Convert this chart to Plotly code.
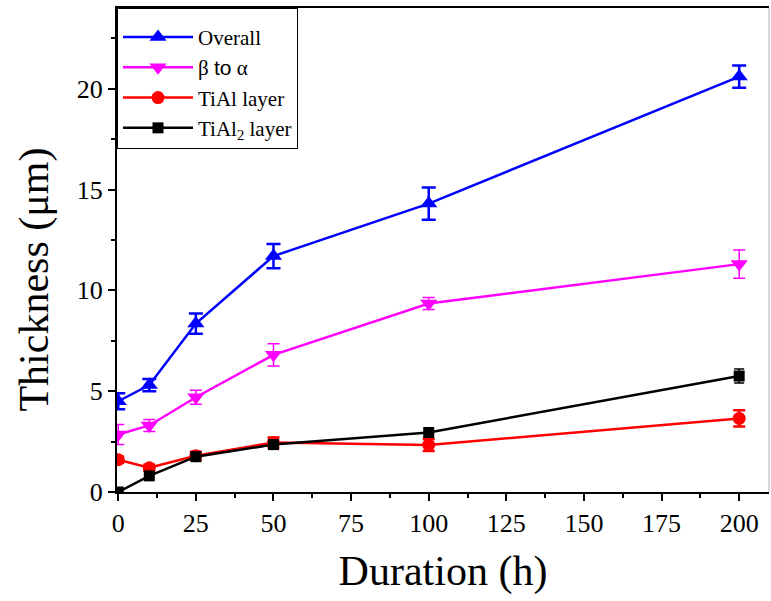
import plotly.graph_objects as go

duration = [0, 10, 25, 50, 100, 200]
overall = [4.5, 5.3, 8.35, 11.7, 14.3, 20.6]
overall_err = [0.4, 0.3, 0.5, 0.6, 0.8, 0.55]
beta_alpha = [2.85, 3.3, 4.7, 6.8, 9.35, 11.3]
beta_alpha_err = [0.5, 0.3, 0.35, 0.55, 0.3, 0.7]
tial = [1.6, 1.2, 1.8, 2.45, 2.33, 3.65]
tial_err = [0.15, 0.15, 0.2, 0.25, 0.3, 0.4]
tial2 = [0.0, 0.8, 1.75, 2.35, 2.95, 5.75]
tial2_err = [0.05, 0.1, 0.15, 0.15, 0.15, 0.35]

x_ticks = [0, 25, 50, 75, 100, 125, 150, 175, 200]
y_ticks = [0, 5, 10, 15, 20]

series = [
    ("Overall", overall, overall_err, "#0000ff", "triangle-up", 15, 2.5, 7),
    ("β <span style=\"font-family:'Liberation Sans'\">to</span> α", beta_alpha, beta_alpha_err, "#ff00ff", "triangle-down", 15, 1.5, 6),
    ("TiAl layer", tial, tial_err, "#ff0000", "circle", 13, 2.5, 6),
    ("TiAl<sub>2</sub> layer", tial2, tial2_err, "#000000", "square", 11, 1.5, 5),
]

fig = go.Figure()
for name, y, err, color, sym, size, ethick, ewidth in series:
    fig.add_trace(go.Scatter(
        x=duration, y=y, name=name, mode="lines+markers",
        line=dict(color=color, width=2.5),
        marker=dict(symbol=sym, size=size, color=color),
        error_y=dict(type="data", array=err, visible=True, color=color,
                     thickness=ethick, width=ewidth),
    ))

font_family = "Liberation Serif, Times New Roman, serif"
fig.update_layout(
    width=771, height=601,
    margin=dict(l=117, r=2, t=8, b=109),
    paper_bgcolor="white", plot_bgcolor="white",
    font=dict(family=font_family, color="black"),
    showlegend=True,
    legend=dict(
        x=0, y=1, xanchor="left", yanchor="top",
        bordercolor="black", borderwidth=1, bgcolor="white",
        font=dict(size=21, family=font_family),
        tracegroupgap=0, itemwidth=70,
        traceorder="normal",
        title=dict(text=" ", font=dict(size=6)),
    ),
    xaxis=dict(
        range=[-0.4, 209.6], tickvals=x_ticks, ticktext=[str(v) for v in x_ticks],
        showline=True, linecolor="black", linewidth=2, mirror=True,
        ticks="outside", ticklen=7, tickwidth=2, tickcolor="black",
        minor=dict(ticks="outside", ticklen=4, tickwidth=2, tickcolor="black", dtick=12.5, tick0=0),
        showgrid=False, zeroline=False,
        tickfont=dict(size=26, family=font_family),
        title=dict(text="Duration (h)", font=dict(size=42, family=font_family), standoff=18),
    ),
    yaxis=dict(
        range=[0, 24], tickvals=y_ticks,
        showline=True, linecolor="black", linewidth=2, mirror=False,
        ticks="outside", ticklen=7, tickwidth=2, tickcolor="black",
        minor=dict(ticks="outside", ticklen=4, tickwidth=2, tickcolor="black", dtick=2.5, tick0=0),
        showgrid=False, zeroline=False,
        tickfont=dict(size=26, family=font_family),
    ),
    annotations=[dict(
        text="Thickness (μm)", textangle=-90, xref="paper", yref="paper",
        x=-0.128, y=0.438, xanchor="center", yanchor="middle", showarrow=False,
        font=dict(size=42, family=font_family, color="black"),
    )],
    shapes=[dict(type="line", xref="paper", yref="paper", x0=1, x1=1, y0=0, y1=1,
                 line=dict(color="#b0b0b0", width=1))],
)

fig.write_html("out.html")
